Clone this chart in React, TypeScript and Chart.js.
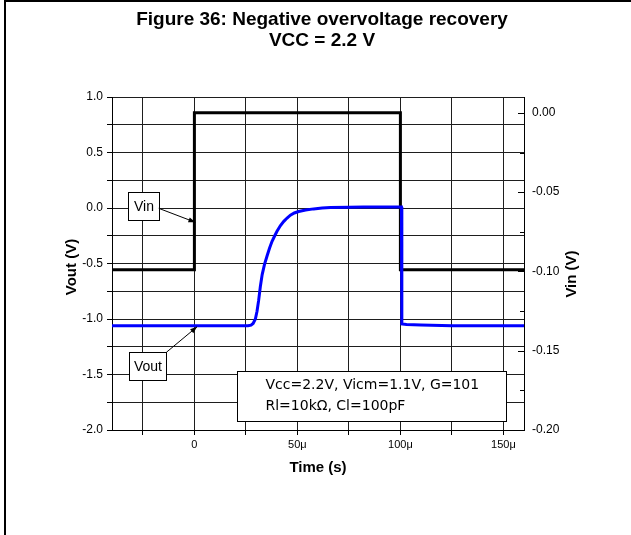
import React, { useEffect, useRef } from "react";
import { Chart, registerables } from "chart.js";

Chart.register(...registerables);

// ---- data (time in microseconds) ----
const vinTime = [-40, 0, 0, 100, 100, 160];
const vinVolts = [-0.099, -0.099, 0.0, 0.0, -0.099, -0.099];

const voutTime = [
  -40, 0, 26, 27.5, 28.5, 29.6, 30.4, 31.2, 32, 32.9, 34, 35.3, 36.5, 37.7, 39,
  40.1, 41.7, 43.4, 45, 46.6, 48.5, 50.6, 54, 57.9, 62, 66, 75, 82, 90, 100,
  100.5, 100.7, 103, 110, 125, 160,
];
const voutVolts = [
  -1.06, -1.06, -1.06, -1.055, -1.04, -1.0, -0.93, -0.83, -0.71, -0.6, -0.51,
  -0.43, -0.36, -0.3, -0.25, -0.21, -0.16, -0.12, -0.09, -0.065, -0.045, -0.032,
  -0.018, -0.008, 0.0, 0.004, 0.007, 0.009, 0.009, 0.008, 0.008, -1.045, -1.05,
  -1.055, -1.06, -1.06,
];

const xTickValues = [-25, 0, 25, 50, 75, 100, 125, 150];
const xTickLabels = ["", "0", "", "50\u03bc", "", "100\u03bc", "", "150\u03bc"];
const leftTickValues = [-2, -1.75, -1.5, -1.25, -1, -0.75, -0.5, -0.25, 0, 0.25, 0.5, 0.75, 1];
const leftTickLabels = ["-2.0", "", "-1.5", "", "-1.0", "", "-0.5", "", "0.0", "", "0.5", "", "1.0"];
const rightTickValues = [-0.2, -0.175, -0.15, -0.125, -0.1, -0.075, -0.05, -0.025, 0];
const rightTickLabels = ["-0.20", "", "-0.15", "", "-0.10", "", "-0.05", "", "0.00"];

const titleLines = ["Figure 36: Negative overvoltage recovery", "VCC = 2.2 V"];
const paramLines = ["Vcc=2.2V, Vicm=1.1V, G=101", "Rl=10k\u03a9, Cl=100pF"];

// annotation anchors, in data units (x: us, y: Vout axis)
const vinCallout = { text: "Vin", box: [-32, 0.14, -17.3, -0.11], from: [-17.3, -0.003], to: [0.5, -0.129] };
const voutCallout = { text: "Vout", box: [-31.9, -1.3, -13.6, -1.55], from: [-13.6, -1.3], to: [1.3, -1.07] };
const paramBox = { box: [20.9, -1.466, 151.5, -1.916], textX: 34.5, lineY: [-1.595, -1.79] };

function arrow(ctx: CanvasRenderingContext2D, x1: number, y1: number, x2: number, y2: number) {
  ctx.save();
  ctx.strokeStyle = "#000";
  ctx.fillStyle = "#000";
  ctx.lineWidth = 1;
  ctx.beginPath();
  ctx.moveTo(x1, y1);
  ctx.lineTo(x2, y2);
  ctx.stroke();
  const a = Math.atan2(y2 - y1, x2 - x1);
  const L = 7, W = 2.5;
  ctx.beginPath();
  ctx.moveTo(x2, y2);
  ctx.lineTo(x2 - L * Math.cos(a) + W * Math.sin(a), y2 - L * Math.sin(a) - W * Math.cos(a));
  ctx.lineTo(x2 - L * Math.cos(a) - W * Math.sin(a), y2 - L * Math.sin(a) + W * Math.cos(a));
  ctx.closePath();
  ctx.fill();
  ctx.restore();
}

const overlay = {
  id: "overlay",
  afterDraw(chart: any) {
    const ctx: CanvasRenderingContext2D = chart.ctx;
    const xs = chart.scales.x;
    const ys = chart.scales.y;
    const yr = chart.scales.y1;
    const px = (v: number) => xs.getPixelForValue(v);
    const py = (v: number) => ys.getPixelForValue(v);
    const area = chart.chartArea;

    ctx.save();
    // figure frame (top and left edges)
    ctx.fillStyle = "#000";
    ctx.fillRect(4, 0, 2, chart.height);
    ctx.fillRect(4, 0, chart.width - 4, 2);

    // title
    ctx.fillStyle = "#000";
    ctx.textAlign = "center";
    ctx.textBaseline = "middle";
    ctx.font = "bold 19px 'Liberation Sans', Arial, sans-serif";
    ctx.fillText(titleLines[0], 322, 20);
    ctx.fillText(titleLines[1], 322, 41);

    // axis titles
    ctx.font = "bold 15px 'Liberation Sans', Arial, sans-serif";
    ctx.fillText("Time (s)", (area.left + area.right) / 2, 468);
    ctx.save();
    ctx.translate(72, 267);
    ctx.rotate(-Math.PI / 2);
    ctx.fillText("Vout (V)", 0, 0);
    ctx.restore();
    ctx.save();
    ctx.translate(572, 274);
    ctx.rotate(-Math.PI / 2);
    ctx.fillText("Vin (V)", 0, 0);
    ctx.restore();

    // right axis inner tick marks
    ctx.strokeStyle = "#000";
    ctx.lineWidth = 1;
    rightTickValues.forEach((v, i) => {
      const y = Math.round(yr.getPixelForValue(v)) + 0.5;
      const len = rightTickLabels[i] ? 6 : 4;
      ctx.beginPath();
      ctx.moveTo(area.right - len, y);
      ctx.lineTo(area.right, y);
      ctx.stroke();
    });

    // callouts
    [vinCallout, voutCallout].forEach((c) => {
      const x1 = Math.round(px(c.box[0])) + 0.5;
      const y1 = Math.round(py(c.box[1])) + 0.5;
      const x2 = Math.round(px(c.box[2])) + 0.5;
      const y2 = Math.round(py(c.box[3])) + 0.5;
      ctx.fillStyle = "#fff";
      ctx.fillRect(x1, y1, x2 - x1, y2 - y1);
      ctx.strokeStyle = "#000";
      ctx.lineWidth = 1;
      ctx.strokeRect(x1, y1, x2 - x1, y2 - y1);
      ctx.fillStyle = "#000";
      ctx.font = "14px 'Liberation Sans', Arial, sans-serif";
      ctx.textAlign = "center";
      ctx.textBaseline = "middle";
      ctx.fillText(c.text, (x1 + x2) / 2, (y1 + y2) / 2 + 1);
      arrow(ctx, px(c.from[0]), py(c.from[1]), px(c.to[0]), py(c.to[1]));
    });

    // parameter box
    {
      const b = paramBox.box;
      const x1 = Math.round(px(b[0])) + 0.5;
      const y1 = Math.round(py(b[1])) + 0.5;
      const x2 = Math.round(px(b[2])) + 0.5;
      const y2 = Math.round(py(b[3])) + 0.5;
      ctx.fillStyle = "#fff";
      ctx.fillRect(x1, y1, x2 - x1, y2 - y1);
      ctx.strokeStyle = "#000";
      ctx.lineWidth = 1;
      ctx.strokeRect(x1, y1, x2 - x1, y2 - y1);
      ctx.fillStyle = "#000";
      ctx.font = "14px 'DejaVu Sans', Verdana, sans-serif";
      ctx.textAlign = "left";
      ctx.textBaseline = "middle";
      paramLines.forEach((t, i) => ctx.fillText(t, px(paramBox.textX), py(paramBox.lineY[i])));
    }
    ctx.restore();
  },
};

export default function App() {
  const ref = useRef<HTMLCanvasElement | null>(null);

  useEffect(() => {
    if (!ref.current) return;
    const tickFont = { family: "'Liberation Sans', Arial, sans-serif", size: 12 };
    const gridColor = "#1e1e1e";
    const chart = new Chart(ref.current, {
      type: "line",
      data: {
        datasets: [
          {
            label: "Vout",
            data: voutTime.map((t, i) => ({ x: t, y: voutVolts[i] })),
            yAxisID: "y",
            borderColor: "#0000ff",
            borderWidth: 3,
            pointRadius: 0,
            tension: 0,
            fill: false,
          },
          {
            label: "Vin",
            data: vinTime.map((t, i) => ({ x: t, y: vinVolts[i] })),
            yAxisID: "y1",
            borderColor: "#000",
            borderWidth: 3,
            pointRadius: 0,
            tension: 0,
            fill: false,
          },
        ],
      },
      options: {
        responsive: false,
        animation: false,
        devicePixelRatio: 1,
        layout: { padding: { top: 97, left: 0, right: 0, bottom: 0 } },
        plugins: { legend: { display: false }, tooltip: { enabled: false }, title: { display: false } },
        scales: {
          x: {
            type: "linear",
            min: -40,
            max: 160,
            afterBuildTicks: (s: any) => {
              s.ticks = xTickValues.map((v) => ({ value: v }));
            },
            afterFit: (s: any) => {
              s.height = 105;
            },
            ticks: {
              autoSkip: false,
              maxRotation: 0,
              padding: 3,
              color: "#000",
              font: { family: "'Liberation Sans', Arial, sans-serif", size: 11 },
              callback: (v: any) => xTickLabels[xTickValues.indexOf(v)] ?? "",
            },
            grid: { color: gridColor, lineWidth: 1, tickLength: 5, tickColor: "#000" },
            border: { display: true, color: "#000", width: 1 },
          },
          y: {
            type: "linear",
            position: "left",
            min: -2,
            max: 1,
            afterBuildTicks: (s: any) => {
              s.ticks = leftTickValues.map((v) => ({ value: v }));
            },
            afterFit: (s: any) => {
              s.width = 112;
            },
            ticks: {
              autoSkip: false,
              padding: 4,
              color: "#000",
              font: tickFont,
              callback: (v: any) => leftTickLabels[leftTickValues.indexOf(v)] ?? "",
            },
            grid: { color: gridColor, lineWidth: 1, tickLength: 5, tickColor: "#000" },
            border: { display: true, color: "#000", width: 1 },
          },
          y1: {
            type: "linear",
            position: "right",
            min: -0.2,
            max: 0.01,
            afterBuildTicks: (s: any) => {
              s.ticks = rightTickValues.map((v) => ({ value: v }));
            },
            afterFit: (s: any) => {
              s.width = 107;
            },
            ticks: {
              autoSkip: false,
              padding: 8,
              color: "#000",
              font: tickFont,
              callback: (v: any) => rightTickLabels[rightTickValues.indexOf(v)] ?? "",
            },
            grid: { drawOnChartArea: false, drawTicks: false },
            border: { display: true, color: "#000", width: 1 },
          },
        },
      },
      plugins: [overlay],
    } as any);
    return () => chart.destroy();
  }, []);

  return (
    <div style={{ position: "absolute", left: 0, top: 0, width: 631, height: 535, background: "#fff" }}>
      <canvas ref={ref} width={631} height={535} style={{ width: 631, height: 535, display: "block" }} />
    </div>
  );
}
